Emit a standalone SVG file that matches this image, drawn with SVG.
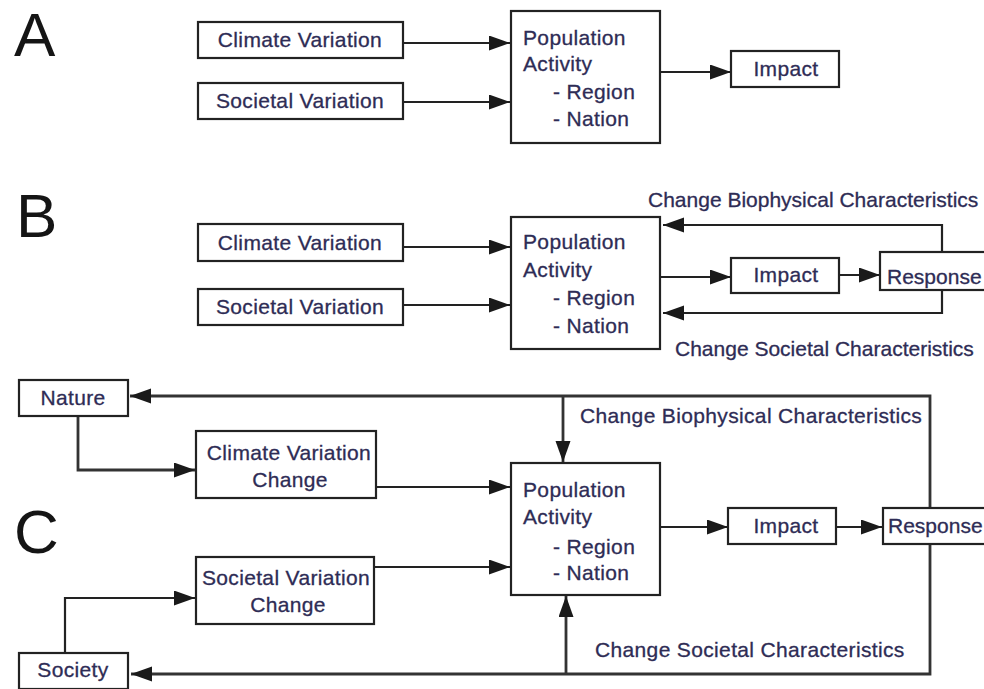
<svg xmlns="http://www.w3.org/2000/svg" width="984" height="689" viewBox="0 0 984 689">
<style>
.box{fill:#fff;stroke:#222;stroke-width:2.2}
.t{font-family:"Liberation Sans",Arial,sans-serif;font-size:21px;letter-spacing:0.35px;fill:#2e2c55;stroke:#2e2c55;stroke-width:0.3}
.m{text-anchor:middle}
.tight{letter-spacing:0px}
.big{font-family:"Liberation Sans",Arial,sans-serif;font-size:62px;fill:#151515}
.ln{fill:none;stroke:#222;stroke-width:2.2}
.lc{fill:none;stroke:#333;stroke-width:2.8}
</style>
<defs>
<marker id="ah" markerUnits="userSpaceOnUse" markerWidth="22" markerHeight="16" refX="21" refY="7.5" orient="auto">
<path d="M0,0 L21,7.5 L0,15 z" fill="#1a1a1a"/>
</marker>
</defs>
<rect width="984" height="689" fill="#fff"/>

<!-- panel letters -->
<text class="big" x="14" y="56">A</text>
<text class="big" x="16" y="237">B</text>
<text class="big" x="14" y="553">C</text>

<g id="connectors">
<!-- A -->
<path class="ln" d="M403,43 H510" marker-end="url(#ah)"/>
<path class="ln" d="M403,102 H510" marker-end="url(#ah)"/>
<path class="ln" d="M660,72 H731" marker-end="url(#ah)"/>
<!-- B -->
<path class="ln" d="M403,247 H510" marker-end="url(#ah)"/>
<path class="ln" d="M403,305 H510" marker-end="url(#ah)"/>
<path class="ln" d="M660,277 H731" marker-end="url(#ah)"/>
<path class="ln" d="M839,275 H880" marker-end="url(#ah)"/>
<path class="ln" d="M942,252 V225 H663" marker-end="url(#ah)"/>
<path class="ln" d="M942,290 V313 H663" marker-end="url(#ah)"/>
<!-- C -->
<path class="lc" d="M78,416 V470 H195" marker-end="url(#ah)"/>
<path class="ln" d="M376,487 H510" marker-end="url(#ah)"/>
<path class="ln" d="M65,653 V598 H195" marker-end="url(#ah)"/>
<path class="ln" d="M374,567 H510" marker-end="url(#ah)"/>
<path class="ln" d="M660,527 H728" marker-end="url(#ah)"/>
<path class="ln" d="M836,527 H882" marker-end="url(#ah)"/>
<path class="lc" d="M930,507 V396 H130" marker-end="url(#ah)"/>
<path class="lc" d="M563,396 V462" marker-end="url(#ah)"/>
<path class="lc" d="M930,545 V674 H131" marker-end="url(#ah)"/>
<path class="lc" d="M566,674 V596" marker-end="url(#ah)"/>
</g>

<!-- A nodes -->
<g id="a-climate">
<rect class="box" x="198" y="22" width="205" height="36"/>
<text class="t m" x="300" y="47">Climate Variation</text>
</g>
<g id="a-societal">
<rect class="box" x="198" y="83" width="205" height="36"/>
<text class="t m" x="300" y="108">Societal Variation</text>
</g>
<g id="a-population">
<rect class="box" x="511" y="11" width="149" height="132"/>
<text class="t" x="523" y="45">Population</text>
<text class="t" x="523" y="71">Activity</text>
<text class="t" x="553" y="99">- Region</text>
<text class="t" x="553" y="126">- Nation</text>
</g>
<g id="a-impact">
<rect class="box" x="731" y="51" width="108" height="36"/>
<text class="t m" x="786" y="76">Impact</text>
</g>

<!-- B nodes -->
<g id="b-climate">
<rect class="box" x="198" y="224" width="205" height="37"/>
<text class="t m" x="300" y="250">Climate Variation</text>
</g>
<g id="b-societal">
<rect class="box" x="198" y="289" width="205" height="36"/>
<text class="t m" x="300" y="314">Societal Variation</text>
</g>
<g id="b-population">
<rect class="box" x="511" y="217" width="149" height="132"/>
<text class="t" x="523" y="249">Population</text>
<text class="t" x="523" y="277">Activity</text>
<text class="t" x="553" y="305">- Region</text>
<text class="t" x="553" y="333">- Nation</text>
</g>
<g id="b-impact">
<rect class="box" x="731" y="258" width="108" height="35"/>
<text class="t m" x="786" y="282">Impact</text>
</g>
<g id="b-response">
<rect class="box" x="880" y="252" width="110" height="38"/>
<text class="t tight" x="887" y="284">Response</text>
</g>
<text class="t tight" x="648" y="207">Change Biophysical Characteristics</text>
<text class="t tight" x="675" y="356">Change Societal Characteristics</text>

<!-- C nodes -->
<g id="c-nature">
<rect class="box" x="19" y="380" width="109" height="36"/>
<text class="t m" x="73" y="405">Nature</text>
</g>
<g id="c-climate">
<rect class="box" x="196" y="431" width="180" height="67"/>
<text class="t m" x="289" y="460">Climate Variation</text>
<text class="t m" x="290" y="487">Change</text>
</g>
<g id="c-societal">
<rect class="box" x="196" y="557" width="178" height="67"/>
<text class="t m" x="286" y="585">Societal Variation</text>
<text class="t m" x="288" y="612">Change</text>
</g>
<g id="c-society">
<rect class="box" x="19" y="653" width="109" height="36"/>
<text class="t m" x="73" y="677">Society</text>
</g>
<g id="c-population">
<rect class="box" x="511" y="463" width="149" height="132"/>
<text class="t" x="523" y="497">Population</text>
<text class="t" x="523" y="524">Activity</text>
<text class="t" x="553" y="554">- Region</text>
<text class="t" x="553" y="580">- Nation</text>
</g>
<g id="c-impact">
<rect class="box" x="728" y="508" width="108" height="36"/>
<text class="t m" x="786" y="533">Impact</text>
</g>
<g id="c-response">
<rect class="box" x="883" y="508" width="107" height="36"/>
<text class="t tight" x="888" y="533">Response</text>
</g>
<text class="t" x="580" y="423">Change Biophysical Characteristics</text>
<text class="t" x="595" y="657">Change Societal Characteristics</text>
</svg>
